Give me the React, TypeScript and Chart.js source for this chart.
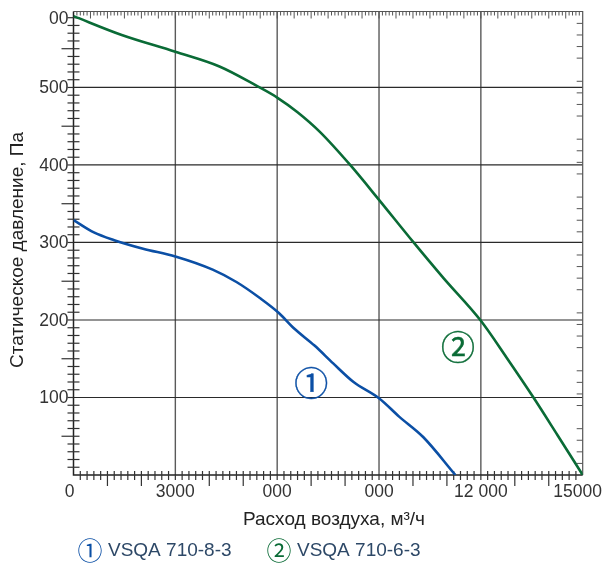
import React, { useEffect, useRef } from "react";
import { Chart, registerables } from "chart.js";

Chart.register(...registerables);

// ---- data ----
const series1Flow = [0, 600, 1200, 2050, 3000, 4100, 4800, 5500, 6050, 6500, 7100, 7650, 8250, 9000, 9600, 10300, 11250];
const series1Pressure = [329, 313, 303, 292, 282, 265, 249, 228, 209, 189, 167, 144, 120, 99, 75, 49, 0];
const series2Flow = [0, 1400, 3000, 4300, 5400, 6000, 6600, 7250, 8150, 9000, 10000, 10900, 12000, 12750, 13550, 14250, 15000];
const series2Pressure = [592, 568, 546, 527, 502, 487, 468, 443, 400, 355, 301, 254, 199, 152, 100, 52, 0];

const seriesNames = ["VSQA 710-8-3", "VSQA 710-6-3"];
const seriesMarks = ["①", "②"];
const markFlow = [7000, 11330];
const markPressure = [119, 165];

const xTickValues = [0, 3000, 6000, 9000, 12000, 15000];
const xTickLabels = ["0", "3000", "000", "000", "12 000", "15000"];
const yTickValues = [100, 200, 300, 400, 500, 590];
const yTickLabels = ["100", "200", "300", "400", "500", "00"];
const xGridValues = [3000, 6000, 9000, 12000];
const yGridValues = [100, 200, 300, 400, 500];

const xTitle = "Расход воздуха, м³/ч";
const yTitle = "Статическое давление, Па";

const X_MIN = 0;
const X_MAX = 15000;
const Y_MIN = 0;
const Y_MAX = 598;

// ---- style ----
const BLUE = "#0b4fa5";
const GREEN = "#0a6b36";
const LEGEND_TEXT = "#2d4867";
const LABEL_FONT = '17.5px "Liberation Sans", Arial, sans-serif';
const TITLE_FONT = '19px "Liberation Sans", Arial, sans-serif';
const MARK_FONT_FAMILY = '"Noto Sans CJK JP", "DejaVu Sans", sans-serif';

const decorPlugin = {
  id: "decor",
  beforeDatasetsDraw(chart: any) {
    const ctx = chart.ctx as CanvasRenderingContext2D;
    const xs = chart.scales.x;
    const ys = chart.scales.y;
    const a = chart.chartArea;
    ctx.save();

    // grid
    ctx.lineWidth = 1.4;
    ctx.strokeStyle = "#5a5a5a";
    for (const v of xGridValues) {
      const px = xs.getPixelForValue(v);
      ctx.beginPath();
      ctx.moveTo(px, a.top);
      ctx.lineTo(px, a.bottom);
      ctx.stroke();
    }
    ctx.lineWidth = 1.2;
    ctx.strokeStyle = "#2a2a2a";
    for (const v of yGridValues) {
      const py = ys.getPixelForValue(v);
      ctx.beginPath();
      ctx.moveTo(a.left, py);
      ctx.lineTo(a.right, py);
      ctx.stroke();
    }

    // frame
    ctx.strokeStyle = "#555";
    ctx.lineWidth = 1.2;
    ctx.beginPath();
    ctx.moveTo(a.left, a.top);
    ctx.lineTo(a.right, a.top);
    ctx.lineTo(a.right, a.bottom);
    ctx.stroke();
    ctx.strokeStyle = "#222";
    ctx.lineWidth = 1.5;
    ctx.beginPath();
    ctx.moveTo(a.left, a.top);
    ctx.lineTo(a.left, a.bottom);
    ctx.lineTo(a.right, a.bottom);
    ctx.stroke();

    // left ticks
    ctx.lineWidth = 1.2;
    ctx.strokeStyle = "#333";
    for (let v = 10; v < Y_MAX; v += 10) {
      const py = ys.getPixelForValue(v);
      let x0 = a.left - 6;
      let x1 = a.left + 6;
      if (v % 100 === 0) x1 = a.left;
      else if (v % 50 === 0) x0 = a.left - 12;
      ctx.beginPath();
      ctx.moveTo(x0, py);
      ctx.lineTo(x1, py);
      ctx.stroke();
    }

    // bottom ticks
    for (let v = 200; v < X_MAX; v += 200) {
      const px = xs.getPixelForValue(v);
      let y0 = a.bottom - 4;
      let y1 = a.bottom + 5;
      if (v % 3000 === 0) y0 = a.bottom;
      else if (v % 1000 === 0) y1 = a.bottom + 11;
      ctx.beginPath();
      ctx.moveTo(px, y0);
      ctx.lineTo(px, y1);
      ctx.stroke();
    }

    // top ticks
    ctx.lineWidth = 1;
    ctx.strokeStyle = "#555";
    for (let v = 100; v < X_MAX; v += 100) {
      const px = xs.getPixelForValue(v);
      const len = v % 500 === 0 ? 7 : 4;
      ctx.beginPath();
      ctx.moveTo(px, a.top);
      ctx.lineTo(px, a.top + len);
      ctx.stroke();
    }

    // right ticks
    const rStep = 14.94;
    for (let i = 1; i * rStep < Y_MAX; i++) {
      if (i % 5 === 0) continue;
      const py = ys.getPixelForValue(i * rStep);
      ctx.beginPath();
      ctx.moveTo(a.right - 6, py);
      ctx.lineTo(a.right, py);
      ctx.stroke();
    }
    ctx.restore();
  },
  afterDatasetsDraw(chart: any) {
    const ctx = chart.ctx as CanvasRenderingContext2D;
    const xs = chart.scales.x;
    const ys = chart.scales.y;
    const a = chart.chartArea;
    const W = chart.width;
    ctx.save();

    // y tick labels
    ctx.font = LABEL_FONT;
    ctx.fillStyle = "#333";
    ctx.textAlign = "right";
    ctx.textBaseline = "middle";
    yTickValues.forEach((v, i) => {
      ctx.fillText(yTickLabels[i], a.left - 5, ys.getPixelForValue(v) + 1);
    });

    // x tick labels
    xTickValues.forEach((v, i) => {
      const t = xTickLabels[i];
      const w = ctx.measureText(t).width;
      let cx = xs.getPixelForValue(v);
      if (i === 0) cx -= 4;
      if (cx + w / 2 > W - 1) cx = W - 1 - w / 2;
      ctx.textAlign = "center";
      ctx.fillText(t, cx, a.bottom + 17);
    });

    // axis titles
    ctx.font = TITLE_FONT;
    ctx.fillStyle = "#222";
    ctx.textAlign = "center";
    ctx.fillText(xTitle, 334, 520);
    ctx.save();
    ctx.translate(18, 250);
    ctx.rotate(-Math.PI / 2);
    ctx.fillText(yTitle, 0, 0);
    ctx.restore();

    // in-plot markers
    const colors = [BLUE, GREEN];
    ctx.font = `34px ${MARK_FONT_FAMILY}`;
    ctx.textAlign = "center";
    ctx.textBaseline = "middle";
    ctx.lineWidth = 0.4;
    seriesMarks.forEach((m, i) => {
      ctx.fillStyle = colors[i];
      ctx.strokeStyle = colors[i];
      const px = xs.getPixelForValue(markFlow[i]);
      const py = ys.getPixelForValue(markPressure[i]);
      ctx.fillText(m, px, py);
      ctx.strokeText(m, px, py);
    });

    // legend
    const legendX = [90, 279];
    const legendY = 550;
    seriesNames.forEach((name, i) => {
      ctx.font = `25px ${MARK_FONT_FAMILY}`;
      ctx.fillStyle = colors[i];
      ctx.textAlign = "center";
      ctx.fillText(seriesMarks[i], legendX[i], legendY);
      ctx.font = '19px "Liberation Sans", Arial, sans-serif';
      ctx.fillStyle = LEGEND_TEXT;
      ctx.textAlign = "left";
      ctx.fillText(name, legendX[i] + 18, legendY + 1);
    });
    ctx.restore();
  },
};

export default function App() {
  const ref = useRef<HTMLCanvasElement | null>(null);
  useEffect(() => {
    if (!ref.current) return;
    const chart = new Chart(ref.current, {
      type: "line",
      data: {
        datasets: [
          {
            label: seriesNames[0],
            data: series1Flow.map((x, i) => ({ x, y: series1Pressure[i] })),
            borderColor: BLUE,
            borderWidth: 2.6,
            pointRadius: 0,
            cubicInterpolationMode: "monotone",
            fill: false,
          },
          {
            label: seriesNames[1],
            data: series2Flow.map((x, i) => ({ x, y: series2Pressure[i] })),
            borderColor: GREEN,
            borderWidth: 2.6,
            pointRadius: 0,
            cubicInterpolationMode: "monotone",
            fill: false,
          },
        ],
      },
      options: {
        responsive: false,
        animation: false,
        devicePixelRatio: 1,
        layout: { padding: { left: 73.5, right: 20.3, top: 11.5, bottom: 88 } },
        plugins: { legend: { display: false }, tooltip: { enabled: false } },
        scales: {
          x: { type: "linear", min: X_MIN, max: X_MAX, display: false },
          y: { type: "linear", min: Y_MIN, max: Y_MAX, display: false },
        },
      },
      plugins: [decorPlugin],
    });
    return () => chart.destroy();
  }, []);
  return (
    <div style={{ position: "absolute", left: 0, top: 0, width: 603, height: 563, background: "#fff" }}>
      <canvas ref={ref} width={603} height={563} style={{ display: "block" }} />
    </div>
  );
}
